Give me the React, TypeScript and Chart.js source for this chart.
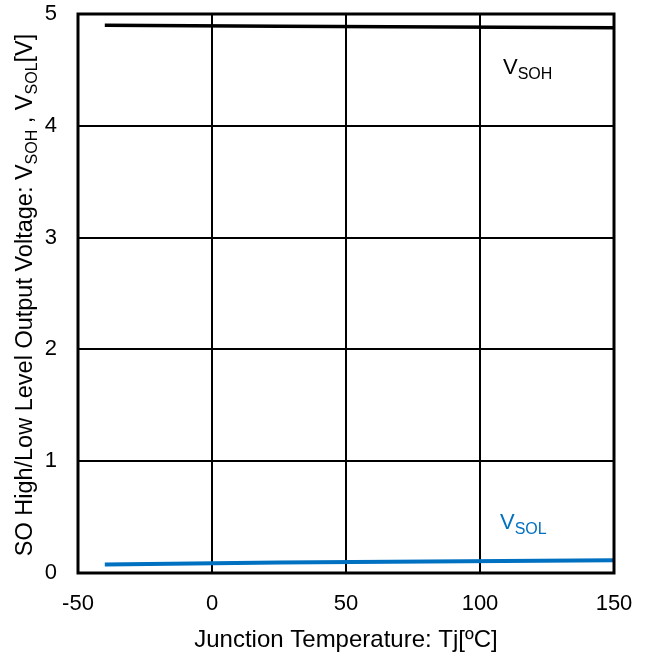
import React, { useEffect, useRef } from "react";
import { Chart, registerables } from "chart.js";

Chart.register(...registerables);

const temps = [-40, 25, 150];
const vsoh = [4.9, 4.89, 4.877];
const vsol = [0.075, 0.095, 0.115];
const xTicks = [-50, 0, 50, 100, 150];
const yTicks = [0, 1, 2, 3, 4, 5];
const xTitle = "Junction Temperature: Tj[ºC]";

const FONT = "Liberation Sans, Arial, sans-serif";
const BLUE = "#0070C0";

type Seg = { t: string; sub?: boolean };

function drawSegs(ctx: CanvasRenderingContext2D, segs: Seg[], x: number, y: number, big: number, small: number, color: string, drop = 5) {
  ctx.fillStyle = color;
  ctx.textAlign = "left";
  ctx.textBaseline = "alphabetic";
  let cx = x;
  for (const s of segs) {
    ctx.font = `${s.sub ? small : big}px ${FONT}`;
    ctx.fillText(s.t, cx, s.sub ? y + drop : y);
    cx += ctx.measureText(s.t).width;
  }
  return cx - x;
}

function segWidth(ctx: CanvasRenderingContext2D, segs: Seg[], big: number, small: number) {
  let w = 0;
  for (const s of segs) {
    ctx.font = `${s.sub ? small : big}px ${FONT}`;
    w += ctx.measureText(s.t).width;
  }
  return w;
}

const overlay = {
  id: "overlay",
  afterDraw(chart: any) {
    const ctx: CanvasRenderingContext2D = chart.ctx;
    const a = chart.chartArea;
    ctx.save();
    ctx.strokeStyle = "#000";
    ctx.lineWidth = 3;
    ctx.strokeRect(a.left, a.top, a.right - a.left, a.bottom - a.top);

    // series labels
    drawSegs(ctx, [{ t: "V" }, { t: "SOH", sub: true }], 503, 74, 22, 16, "#000");
    drawSegs(ctx, [{ t: "V" }, { t: "SOL", sub: true }], 500, 529, 22, 16, BLUE);

    // x title
    ctx.font = `24px ${FONT}`;
    ctx.fillStyle = "#000";
    ctx.textAlign = "center";
    ctx.textBaseline = "alphabetic";
    ctx.fillText(xTitle, 346, 647);

    // y title
    const ySegs: Seg[] = [
      { t: "SO High/Low Level Output Voltage: V" },
      { t: "SOH", sub: true },
      { t: " , V" },
      { t: "SOL", sub: true },
      { t: "[V]" },
    ];
    const w = segWidth(ctx, ySegs, 23.5, 16);
    ctx.translate(32, 295);
    ctx.rotate(-Math.PI / 2);
    drawSegs(ctx, ySegs, -w / 2, 0, 23.5, 16, "#000", 5);
    ctx.restore();
  },
};

export default function App() {
  const ref = useRef<HTMLCanvasElement>(null);
  useEffect(() => {
    document.body.style.margin = "0";
    const chart = new Chart(ref.current!, {
      type: "line",
      data: {
        labels: temps,
        datasets: [
          {
            label: "VSOH",
            data: temps.map((t, i) => ({ x: t, y: vsoh[i] })),
            borderColor: "#000",
            borderWidth: 3.5,
            pointRadius: 0,
            tension: 0,
          },
          {
            label: "VSOL",
            data: temps.map((t, i) => ({ x: t, y: vsol[i] })),
            borderColor: BLUE,
            borderWidth: 4,
            pointRadius: 0,
            tension: 0,
          },
        ],
      },
      options: {
        animation: false,
        responsive: false,
        layout: { padding: { left: 0, top: 14, right: 36, bottom: 0 } },
        plugins: { legend: { display: false }, tooltip: { enabled: false } },
        scales: {
          x: {
            type: "linear",
            min: -50,
            max: 150,
            afterBuildTicks: (s: any) => {
              s.ticks = xTicks.map((v) => ({ value: v }));
            },
            afterFit: (s: any) => {
              s.height = 84;
              s.paddingLeft = 0;
              s.paddingRight = 0;
            },
            grid: { color: "#000", lineWidth: 2, drawTicks: false },
            border: { display: false },
            ticks: {
              color: "#000",
              font: { size: 22, family: FONT },
              padding: 18,
              maxRotation: 0,
            },
          },
          y: {
            type: "linear",
            min: 0,
            max: 5,
            afterBuildTicks: (s: any) => {
              s.ticks = yTicks.map((v) => ({ value: v }));
            },
            afterFit: (s: any) => {
              s.width = 78;
              s.paddingTop = 0;
              s.paddingBottom = 0;
            },
            grid: { color: "#000", lineWidth: 2, drawTicks: false },
            border: { display: false },
            ticks: {
              color: "#000",
              font: { size: 22, family: FONT },
              padding: 21,
            },
          },
        },
      },
      plugins: [overlay],
    });
    return () => chart.destroy();
  }, []);
  return (
    <div style={{ position: "absolute", left: 0, top: 0, width: 650, height: 657, background: "#fff" }}>
      <canvas ref={ref} width={650} height={657} />
    </div>
  );
}
